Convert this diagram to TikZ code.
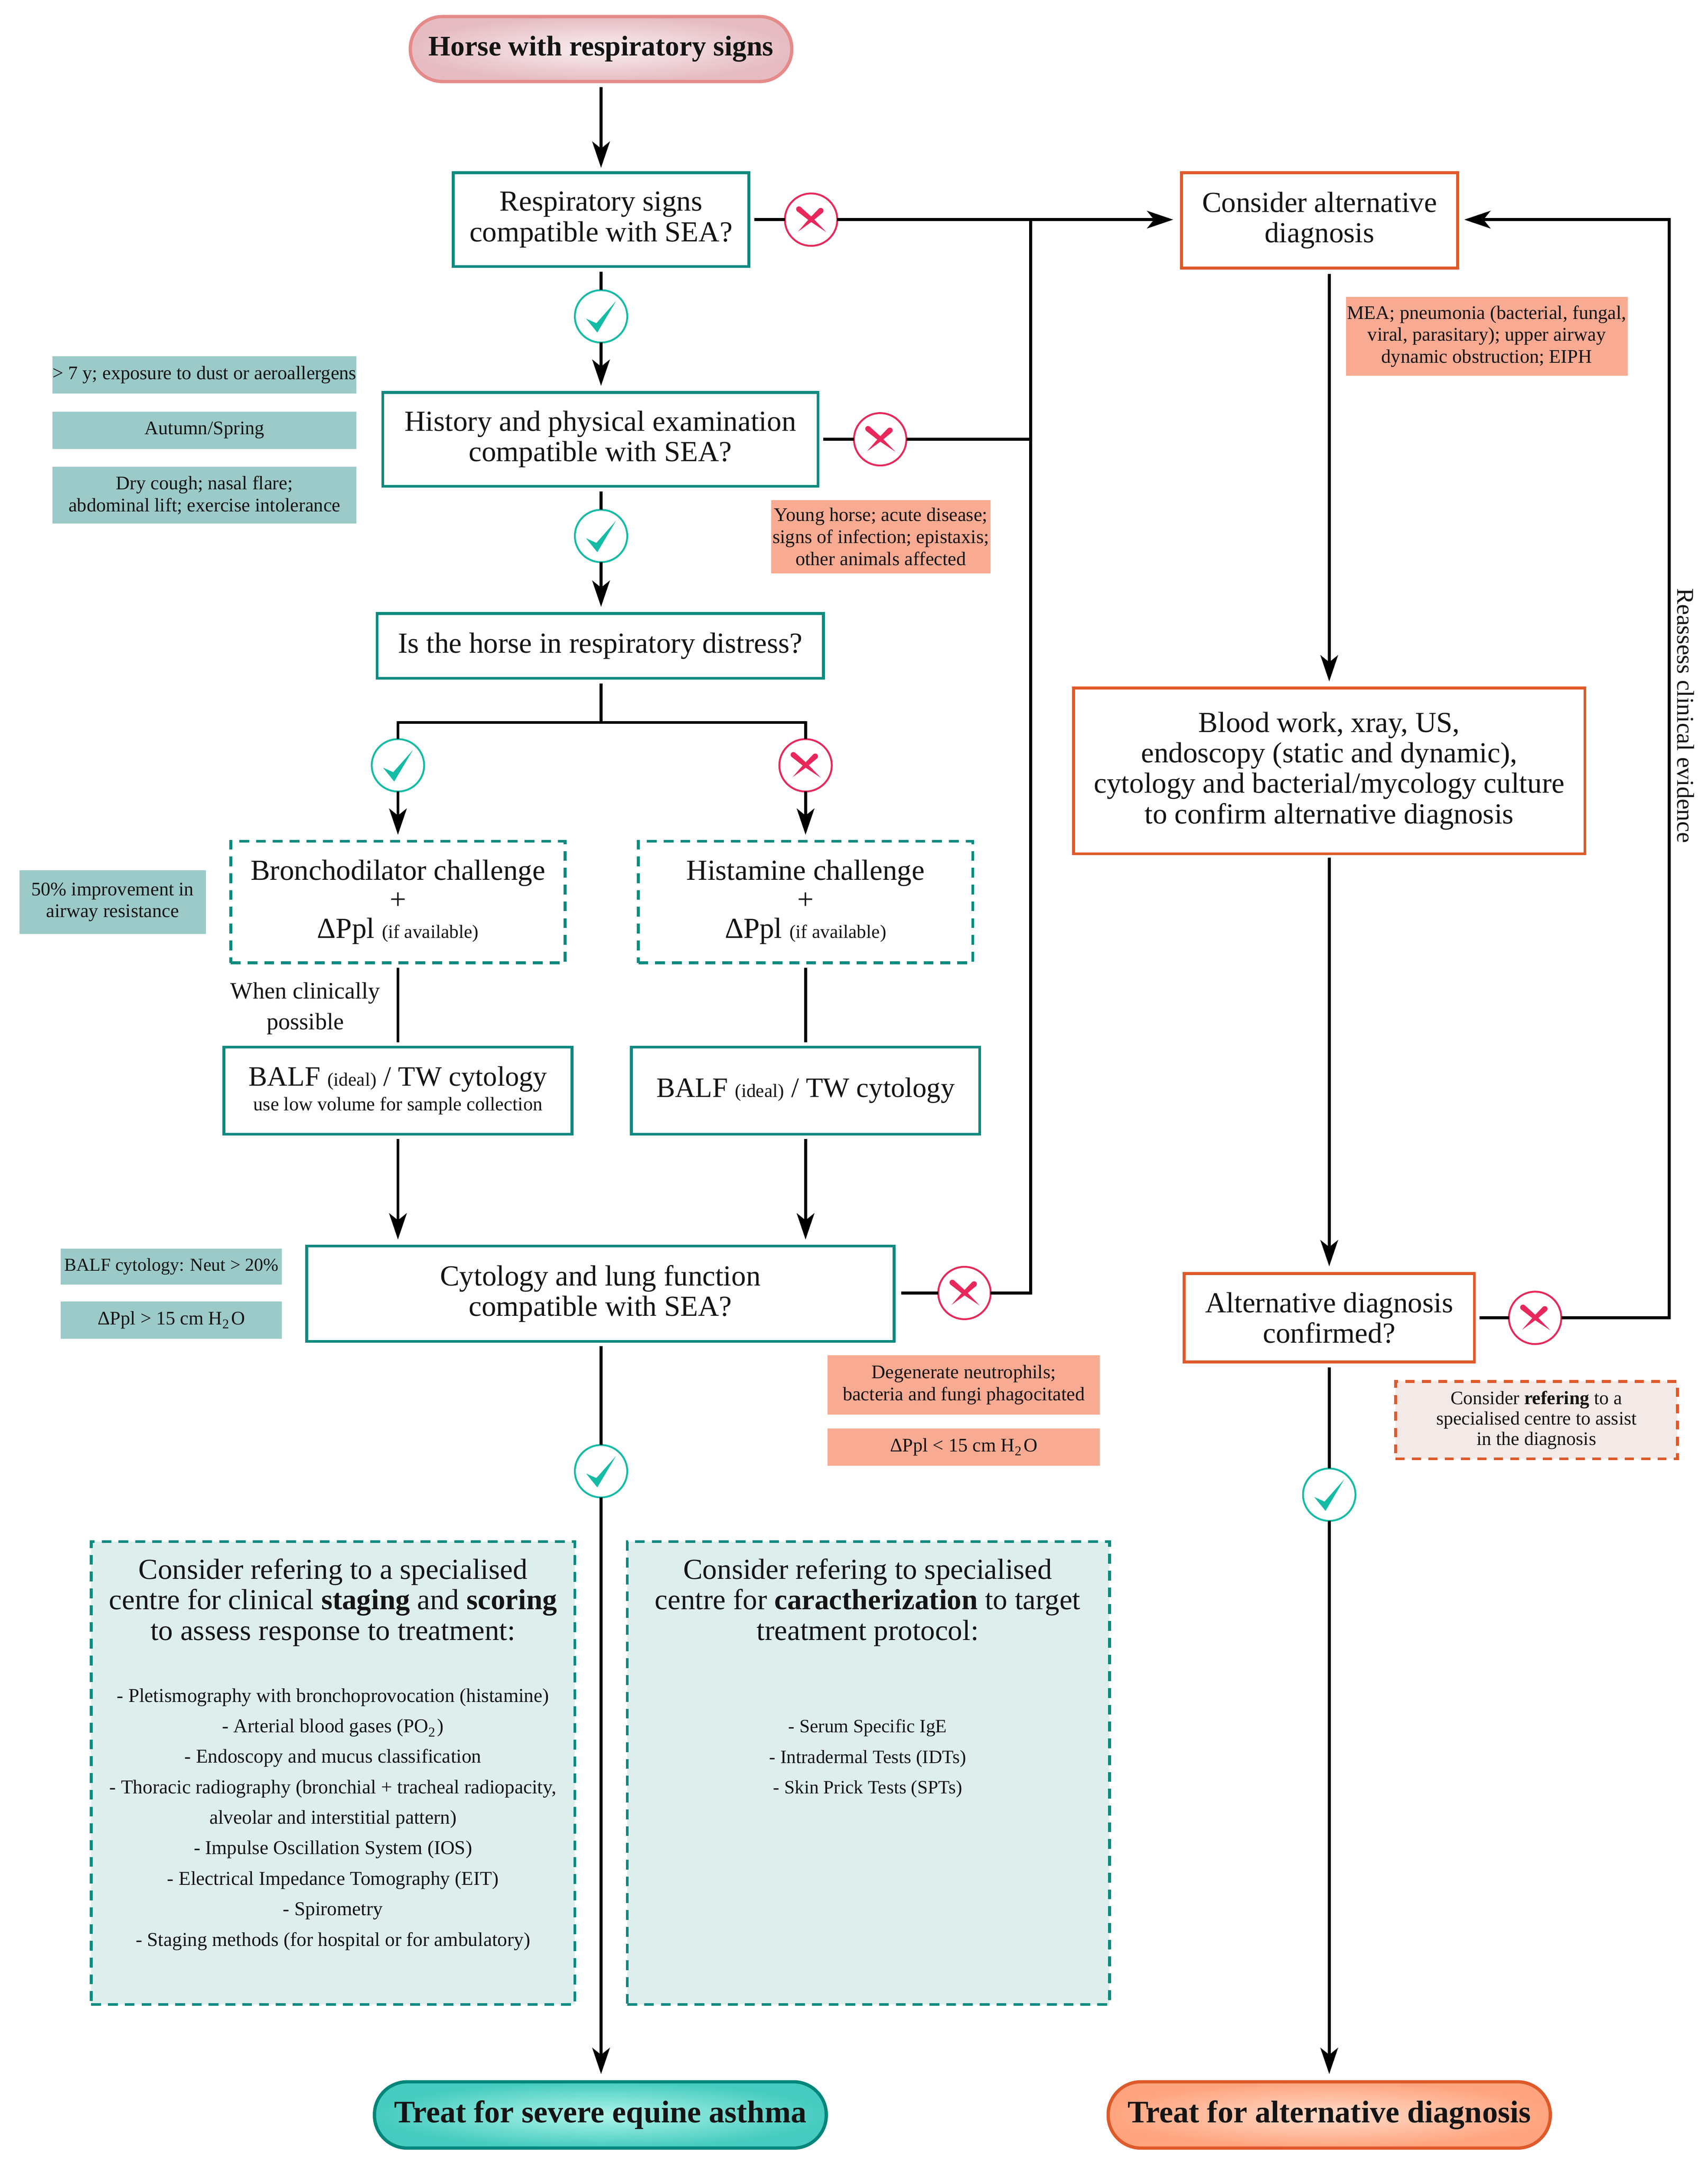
\documentclass[tikz,border=0pt]{standalone}
\usepackage{fontspec}
\setmainfont{Liberation Serif}
\usetikzlibrary{arrows.meta,shapes.geometric,calc}
\definecolor{teal}{HTML}{0B8A80}
\definecolor{tealdark}{HTML}{00857B}
\definecolor{orng}{HTML}{DE5A2A}
\definecolor{chk}{HTML}{14BBA5}
\definecolor{crs}{HTML}{E8285A}
\definecolor{lblg}{HTML}{9BCAC8}
\definecolor{lbls}{HTML}{F8AB92}
\definecolor{lightg}{HTML}{DEEEED}
\definecolor{lightp}{HTML}{F3E9E6}
\definecolor{pinkdraw}{HTML}{E58A8A}
\definecolor{pinkin}{HTML}{F8EEF0}
\definecolor{pinkout}{HTML}{E6BCC2}
\definecolor{tin}{HTML}{B0F5EA}
\definecolor{tout}{HTML}{45CBBF}
\definecolor{oin}{HTML}{FFDCCB}
\definecolor{oout}{HTML}{FFA47E}
\newcommand{\fsz}[2]{\fontsize{#1}{#2}\selectfont}
\newcommand{\bx}[7]{%
  \pgfmathsetmacro\cxx{(#3+#5)/2}\pgfmathsetmacro\cyy{(#4+#6)/2}%
  \pgfmathsetmacro\www{(#5-#3)*0.33754}\pgfmathsetmacro\hhh{(#6-#4)*0.33754}%
  \node[#2,minimum width=\www pt,minimum height=\hhh pt] (#1) at (\cxx,\cyy) {#7};}
\tikzset{
  base/.style={inner sep=0pt,outer sep=0pt,align=center,text=black!92},
  tealbox/.style={base,draw=teal,line width=.7pt,fill=white,font=\fsz{7.1}{7.45}},
  tealdash/.style={base,draw=teal,line width=.7pt,dash pattern=on 2.4pt off 1.7pt,fill=white,font=\fsz{7.1}{7.1}},
  orbox/.style={base,draw=orng,line width=.7pt,fill=white,font=\fsz{7.1}{7.45}},
  greenlbl/.style={base,fill=lblg,font=\fsz{4.7}{5.35}},
  salmonlbl/.style={base,fill=lbls,font=\fsz{4.7}{5.35}},
  refbox/.style={base,draw=orng,line width=.7pt,dash pattern=on 2.2pt off 1.8pt,fill=lightp,font=\fsz{4.65}{5}},
  bigbox/.style={base,draw=teal,line width=.7pt,dash pattern=on 2.4pt off 1.7pt,fill=lightg},
  pillred/.style={base,draw=pinkdraw,line width=.8pt,inner color=pinkin,outer color=pinkout,rounded corners=7.8pt,font=\bfseries\fsz{6.95}{7.4}},
  pillteal/.style={base,draw=tealdark,line width=.8pt,inner color=tin,outer color=tout,rounded corners=8pt,font=\bfseries\fsz{7.65}{8}},
  pillor/.style={base,draw=orng,line width=.8pt,inner color=oin,outer color=oout,rounded corners=8pt,font=\bfseries\fsz{7.65}{8}},
  yescirc/.style={circle,draw=chk,line width=.45pt,fill=white,minimum size=12.8pt,inner sep=0pt,outer sep=0pt},
  nocirc/.style={circle,draw=crs,line width=.45pt,fill=white,minimum size=12.8pt,inner sep=0pt,outer sep=0pt},
  lnk/.style={line width=.7pt,black},
  arr/.style={line width=.7pt,black,-{Stealth[length=6.4pt,width=4.3pt,inset=1.7pt]}},
  txt/.style={inner sep=0pt,outer sep=0pt,align=center,text=black!92},
  yesmark/.pic={\fill[chk] (-10.8,1.7)--(-3.4,5)--(10.8,-11)--(-2.7,11.7)--cycle;},
  nomark/.pic={
    \fill[crs] (-7.5,-9.1)--(1,-1.4)--(11,9)--(-1,1)--(-10.1,-6.1)--cycle;
    \fill[crs] (-8.8,-7.6) circle (2);
    \fill[crs] (5.65,-7.97)--(8.35,-5.03)--(1,1.1)--(-9.4,8.6)--(-1,-1.1)--cycle;
    \fill[crs] (7,-6.5) circle (2);
  }
}
\begin{document}
\begin{tikzpicture}[x=0.33754pt,y=-0.33754pt]
\useasboundingbox (0,0) rectangle (1236,1568.7);
% main boxes
\bx{start}{pillred}{297}{12}{573}{59}{Horse with respiratory signs}
\bx{resp}{tealbox}{328}{125}{542}{193}{Respiratory signs\\compatible with SEA?}
\bx{hist}{tealbox}{277}{284}{592}{352}{History and physical examination\\compatible with SEA?}
\bx{dist}{tealbox}{273}{444}{596}{491}{Is the horse in respiratory distress?}
\bx{bron}{tealdash}{167}{609}{409}{697}{Bronchodilator challenge\\+\\Δ{}Ppl {\fsz{4.6}{7.1}(if available)}}
\bx{hista}{tealdash}{462}{609}{704}{697}{Histamine challenge\\+\\Δ{}Ppl {\fsz{4.6}{7.1}(if available)}}
\bx{balfa}{tealbox}{162}{758}{414}{821}{\fsz{6.85}{7.45}BALF {\fsz{4.6}{7.4}(ideal)} / TW cytology\\[-1.4pt]{\fsz{4.7}{5.2}use low volume for sample collection}}
\bx{balfb}{tealbox}{457}{758}{709}{821}{\fsz{6.85}{7.45}BALF {\fsz{4.6}{7.4}(ideal)} / TW cytology}
\bx{cyto}{tealbox}{222}{902}{647}{971}{Cytology and lung function\\compatible with SEA?}
\bx{alt}{orbox}{855}{125}{1055}{194}{Consider alternative\\diagnosis}
\bx{blood}{orbox}{777}{498}{1147}{618}{Blood work, xray, US,\\endoscopy (static and dynamic),\\cytology and bacterial/mycology culture\\to confirm alternative diagnosis}
\bx{conf}{orbox}{857}{922}{1067}{986}{Alternative diagnosis\\confirmed?}
\bx{ref}{refbox}{1010}{1000}{1214}{1056}{Consider \textbf{refering} to a\\specialised centre to assist\\in the diagnosis}
\bx{tsea}{pillteal}{271}{1507}{598}{1555}{\raisebox{.5pt}{Treat for severe equine asthma}}
\bx{talt}{pillor}{802}{1507}{1122}{1555}{\raisebox{.3pt}{Treat for alternative diagnosis}}
% labels
\bx{ga}{greenlbl}{38}{258}{258}{285}{> 7 y; exposure to dust or aeroallergens}
\bx{gb}{greenlbl}{38}{298}{258}{325}{Autumn/Spring}
\bx{gc}{greenlbl}{38}{338}{258}{379}{Dry cough; nasal flare;\\abdominal lift; exercise intolerance}
\bx{gd}{greenlbl}{14}{630}{149}{676}{50\% improvement in\\airway resistance}
\bx{ge}{greenlbl}{44}{904}{204}{930}{\fsz{4.45}{5.35}BALF cytology: Neut > 20\%}
\bx{gf}{greenlbl}{44}{942}{204}{969}{Δ{}Ppl > 15 cm H\textsubscript{2}O}
\bx{sa}{salmonlbl}{974}{215}{1178}{272}{MEA; pneumonia (bacterial, fungal,\\viral, parasitary); upper airway\\dynamic obstruction; EIPH}
\bx{sb}{salmonlbl}{558}{362}{717}{415}{Young horse; acute disease;\\signs of infection; epistaxis;\\other animals affected}
\bx{sc}{salmonlbl}{599}{981}{796}{1024}{Degenerate neutrophils;\\bacteria and fungi phagocitated}
\bx{sd}{salmonlbl}{599}{1034}{796}{1061}{Δ{}Ppl < 15 cm H\textsubscript{2}O}
% big boxes
\bx{bigl}{bigbox}{66}{1116}{416}{1451}{}
\bx{bigr}{bigbox}{454}{1116}{803}{1451}{}
\node[txt,font=\fsz{7.1}{7.45}] (blh) at (241,1160) {Consider refering to a specialised\\centre for clinical \textbf{staging} and \textbf{scoring}\\to assess response to treatment:};
\node[txt,font=\fsz{4.8}{7.45}] (bll) at (241,1317) {- Pletismography with bronchoprovocation (histamine)\\- Arterial blood gases (PO\textsubscript{2})\\- Endoscopy and mucus classification\\- Thoracic radiography (bronchial + tracheal radiopacity,\\alveolar and interstitial pattern)\\- Impulse Oscillation System (IOS)\\- Electrical Impedance Tomography (EIT)\\- Spirometry\\- Staging methods (for hospital or for ambulatory)};
\node[txt,font=\fsz{7.1}{7.45}] (brh) at (628,1160) {Consider refering to specialised\\centre for \textbf{caractherization} to target\\treatment protocol:};
\node[txt,font=\fsz{4.6}{7.45}] (brl) at (628,1273) {- Serum Specific IgE\\- Intradermal Tests (IDTs)\\- Skin Prick Tests (SPTs)};
\node[txt,font=\fsz{5.75}{7.45}] (wcp) at (221,730) {When clinically\\possible};
\node[txt,font=\fsz{5.9}{7.45},rotate=-90] (reas) at (1220,518) {Reassess clinical evidence};
% decision circles
\node[yescirc] (y1) at (435,229) {}; \pic at (y1) {yesmark};
\node[yescirc] (y2) at (435,388) {}; \pic at (y2) {yesmark};
\node[yescirc] (y3) at (288,554) {}; \pic at (y3) {yesmark};
\node[yescirc] (y4) at (435,1065) {}; \pic at (y4) {yesmark};
\node[yescirc] (y5) at (962,1082) {}; \pic at (y5) {yesmark};
\node[nocirc] (n1) at (587,159) {}; \pic at (n1) {nomark};
\node[nocirc] (n2) at (637,318) {}; \pic at (n2) {nomark};
\node[nocirc] (n3) at (583,554) {}; \pic at (n3) {nomark};
\node[nocirc] (n4) at (698,936) {}; \pic at (n4) {nomark};
\node[nocirc] (n5) at (1111,954) {}; \pic at (n5) {nomark};
% helper coordinates
\coordinate (jtop) at (746,159);
\coordinate (jmid) at (746,318);
\coordinate (jbot) at (746,936);
\coordinate (split) at (435,523);
\coordinate (splitl) at (288,523);
\coordinate (splitr) at (583,523);
\coordinate (back) at (1208,954);
\coordinate (backt) at (1208,159);
% connectors
\draw[arr,shorten <=1.35pt,shorten >=1.2pt] (start.south) -- (start.south |- resp.north);
\draw[lnk,shorten <=1.3pt] (y1.north |- resp.south) -- (y1.north);
\draw[arr,shorten >=1.6pt] (y1.south) -- (y1.south |- hist.north);
\draw[lnk,shorten <=1.3pt] (y2.north |- hist.south) -- (y2.north);
\draw[arr,shorten >=1.6pt] (y2.south) -- (y2.south |- dist.north);
\draw[lnk,shorten <=1.3pt] (split |- dist.south) -- (split);
\draw[lnk,line join=miter] (y3.north) -- (splitl) -- (splitr) -- (n3.north);
\draw[arr,shorten >=1.6pt] (y3.south) -- (y3.south |- bron.north);
\draw[arr,shorten >=1.6pt] (n3.south) -- (n3.south |- hista.north);
\draw[lnk,shorten <=1.2pt,shorten >=1.2pt] (y3.south |- bron.south) -- (y3.south |- balfa.north);
\draw[lnk,shorten <=1.2pt,shorten >=1.2pt] (n3.south |- hista.south) -- (n3.south |- balfb.north);
\draw[arr,shorten <=1.2pt,shorten >=1.6pt] (y3.south |- balfa.south) -- (y3.south |- cyto.north);
\draw[arr,shorten <=1.2pt,shorten >=1.6pt] (n3.south |- balfb.south) -- (n3.south |- cyto.north);
\draw[lnk,shorten <=1.2pt] (y4.north |- cyto.south) -- (y4.north);
\draw[arr,shorten >=1.9pt] (y4.south) -- (y4.south |- tsea.north);
\draw[lnk,shorten <=1.3pt] (resp.east |- n1.west) -- (n1.west);
\draw[arr,shorten >=2pt] (n1.east) -- (n1.east -| alt.west);
\draw[lnk,shorten <=1.3pt] (hist.east |- n2.west) -- (n2.west);
\draw[lnk] (n2.east) -- (jmid);
\draw[lnk,shorten <=1.8pt] (cyto.east |- n4.west) -- (n4.west);
\draw[lnk,line join=miter] (n4.east) -- (jbot) -- (jtop);
\draw[arr,shorten <=1.4pt,shorten >=1.6pt] (blood.north |- alt.south) -- (blood.north);
\draw[arr,shorten <=1pt,shorten >=1.8pt] (blood.south) -- (blood.south |- conf.north);
\draw[lnk,shorten <=1.3pt] (y5.north |- conf.south) -- (y5.north);
\draw[arr,shorten >=1.9pt] (y5.south) -- (y5.south |- talt.north);
\draw[lnk,shorten <=1.3pt] (conf.east |- n5.west) -- (n5.west);
\draw[arr,line join=miter,shorten >=1.6pt] (n5.east) -- (back) -- (backt) -- (backt -| alt.east);
\end{tikzpicture}
\end{document}
